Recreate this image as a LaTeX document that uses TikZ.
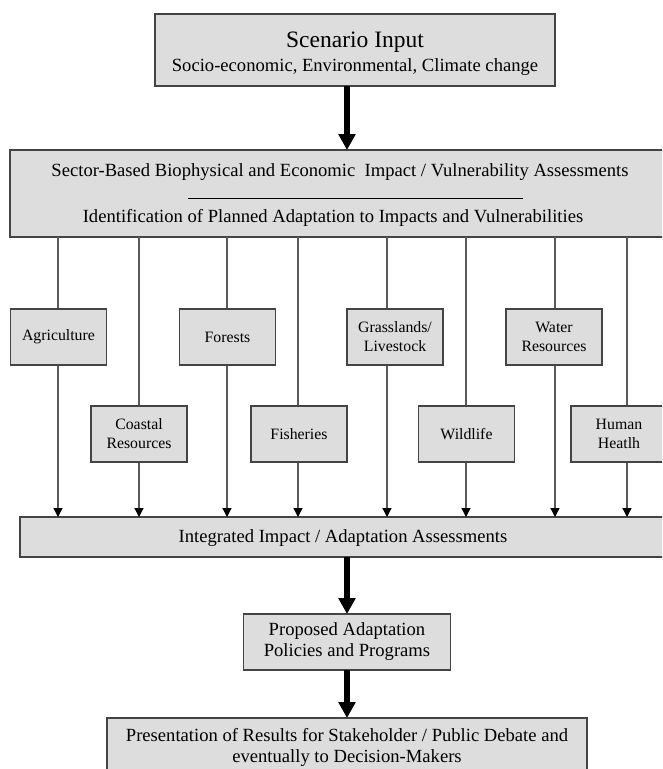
\documentclass[tikz,border=0pt]{standalone}
\usepackage{fontspec}
\setmainfont{Liberation Serif}
\usetikzlibrary{arrows.meta}
\definecolor{boxfill}{HTML}{DDDDDD}
\definecolor{boxedge}{HTML}{444444}
\definecolor{feedline}{HTML}{5A5A5A}
\begin{document}
\begin{tikzpicture}[x=1pt,y=-1pt,
  panel/.style={draw=boxedge, line width=1.3pt, fill=boxfill, inner sep=0pt, outer sep=0pt},
  sectorbox/.style={panel, minimum width=96pt, minimum height=56pt, align=center,
    font=\fontsize{15.8}{19}\selectfont},
  txt/.style={inner sep=0pt, align=center, font=\fontsize{18.6}{21}\selectfont},
  bigflow/.style={line width=5.5pt, -{Triangle[width=16.5pt,length=16pt]}},
  feed/.style={draw=feedline, line width=1.2pt, -{Triangle[width=9pt,length=9pt,color=black]}}
]
\useasboundingbox (0,0) rectangle (662,769);
\clip (0,0) rectangle (662,769);

% main column axis and the eight sector feed lines
\coordinate (axis) at (347,0);
\foreach \n/\x in {1/58,2/139,3/227,4/298,5/387,6/466,7/555,8/627}
  \coordinate (f\n) at (\x,0);

% scenario input
\node[panel, minimum width=400pt, minimum height=72pt] (scen) at (355,50) {};
\node[inner sep=0pt, font=\fontsize{23.5}{26}\selectfont] (scentitle) at (355,42) {Scenario Input};
\node[txt] (scensub) at (355,67) {Socio-economic, Environmental, Climate change};

% sector-based assessments
\node[panel, minimum width=654pt, minimum height=87pt] (sect) at (337,193.5) {};
\node[txt] (secttop) at (340,172) {Sector-Based Biophysical and Economic\ \ Impact / Vulnerability Assessments};
\node[inner sep=0pt] (rulel) at (187,198) {};
\node[inner sep=0pt] (ruler) at (524,198) {};
\draw[line width=1pt] (rulel) -- (ruler);
\node[txt] (sectbot) at (333,218) {Identification of Planned Adaptation to Impacts and Vulnerabilities};

% integrated assessments
\node[panel, minimum width=644pt, minimum height=40pt] (integ) at (342,537) {};
\node[txt] (integtext) at (343,538) {Integrated Impact / Adaptation Assessments};

% feed lines from the sector box down to the integrated box
\foreach \n in {1,...,8}
  \draw[feed] (sect.south -| f\n) -- (integ.north -| f\n);

% individual sectors
\node[sectorbox] (agri)   at (58.5,337) {Agriculture};
\node[sectorbox] (forest) at (227.5,337) {Forests};
\node[sectorbox] (grass)  at (395,337) {Grasslands/\\Livestock};
\node[sectorbox] (water)  at (554,337) {Water\\Resources};
\node[sectorbox] (coast)  at (139,434) {Coastal\\Resources};
\node[sectorbox] (fish)   at (299,434) {Fisheries};
\node[sectorbox] (wild)   at (466.5,434) {Wildlife};
\node[sectorbox] (human)  at (619,434) {Human\\Heatlh};

% policies and presentation
\node[panel, minimum width=207pt, minimum height=56pt, txt] (policy) at (347,642) {Proposed Adaptation\\Policies and Programs};
\node[panel, minimum width=480pt, minimum height=62pt] (present) at (347,749) {};
\node[txt, font=\fontsize{18.6}{21}\selectfont] (presenttext) at (347,747) {Presentation of Results for Stakeholder / Public Debate and\\eventually to Decision-Makers};

% main flow
\draw[bigflow] (scen.south -| axis) -- (sect.north -| axis);
\draw[bigflow] (integ.south -| axis) -- (policy.north -| axis);
\draw[bigflow] (policy.south -| axis) -- (present.north -| axis);
\end{tikzpicture}
\end{document}
